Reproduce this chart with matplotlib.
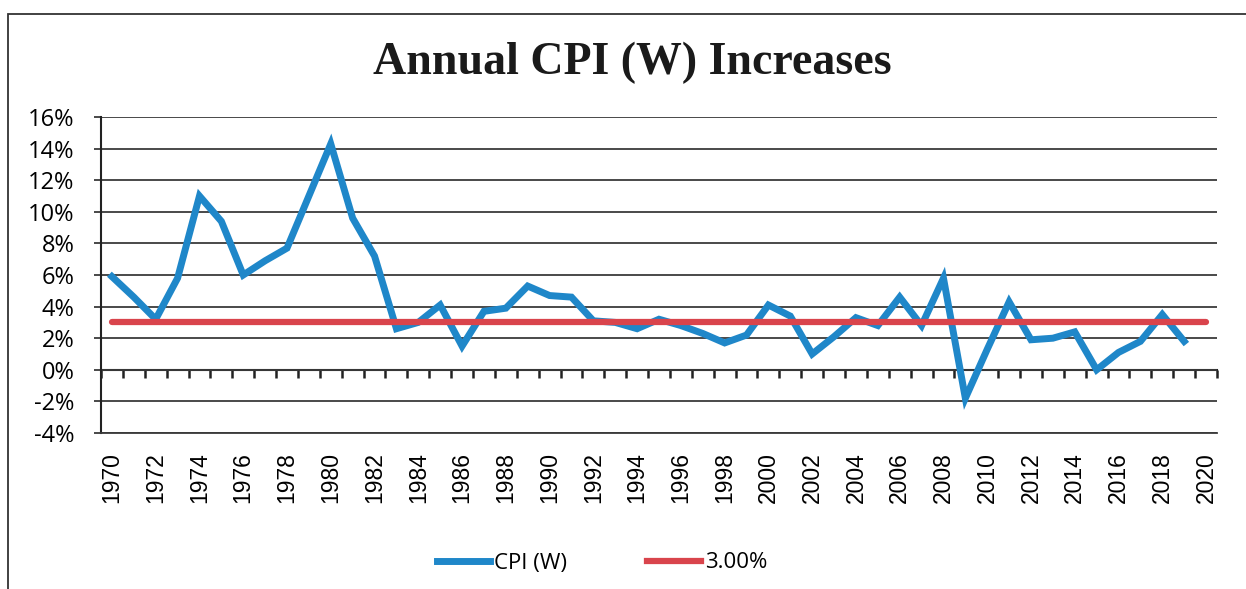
import matplotlib.pyplot as plt
import numpy as np
from matplotlib.lines import Line2D

# data (percent)
years = list(range(1970, 2020))
cpi_w = [5.9, 4.6, 3.2, 5.8, 11.0, 9.4, 6.0, 6.9, 7.7, 11.0,
         14.3, 9.6, 7.2, 2.6, 3.0, 4.1, 1.5, 3.7, 3.9, 5.3,
         4.7, 4.6, 3.1, 3.0, 2.6, 3.2, 2.8, 2.3, 1.7, 2.2,
         4.1, 3.4, 1.0, 2.1, 3.3, 2.8, 4.6, 2.8, 5.8, -1.8,
         1.3, 4.3, 1.9, 2.0, 2.4, 0.0, 1.1, 1.8, 3.5, 1.8]
target_years = list(range(1970, 2021))
target = [3.0] * len(target_years)

year_labels = [str(y) for y in range(1970, 2021, 2)]
y_ticks = list(range(-4, 17, 2))

fig = plt.figure(figsize=(12.46, 5.89), dpi=100)
ax = fig.add_axes([101 / 1246, 1 - 433 / 589, 1116 / 1246, 316 / 589])

# outer frame of the pasted chart
fig.add_artist(plt.Rectangle((8 / 1246, -0.1), 1.2, 1 - 14 / 589 + 0.1,
                             transform=fig.transFigure, fill=False,
                             edgecolor="#333333", linewidth=1.3))

ax.plot(years, cpi_w, color="#1f87c9", linewidth=5, solid_joinstyle="miter",
        zorder=3)
ax.plot(target_years, target, color="#d9444c", linewidth=4.5,
        solid_capstyle="round", zorder=4)

ax.set_xlim(1969.5, 2020.5)
ax.set_ylim(-4, 16)

ax.set_yticks(y_ticks)
ax.set_yticklabels([f"{t}%" for t in y_ticks], fontfamily="Open Sans",
                   fontsize=17)
ax.yaxis.grid(True, color="#3a3a3a", linewidth=1.3)
ax.tick_params(axis="y", length=5, width=1.3, color="#3a3a3a", pad=14)

ax.set_xticks(range(1970, 2021, 2))
ax.set_xticklabels(year_labels, rotation=90, fontfamily="Liberation Sans",
                   fontsize=16.5)
ax.tick_params(axis="x", length=0, pad=14)

for s in ["top", "right"]:
    ax.spines[s].set_visible(False)
ax.spines["left"].set_color("#222222")
ax.spines["left"].set_linewidth(1.5)
ax.spines["bottom"].set_color("#3a3a3a")
ax.spines["bottom"].set_linewidth(1.3)

# category axis with tick marks drawn at the 0% line
sec = ax.secondary_xaxis(0.2)
sec.set_xticks(np.arange(1969.5, 2021, 1.0))
sec.set_xticklabels([])
sec.tick_params(length=6, width=1.8, color="#222222", direction="out")
sec.spines["bottom"].set_color("#222222")
sec.spines["bottom"].set_linewidth(1.5)

fig.text(632 / 1246, 1 - 63 / 589, "Annual CPI (W) Increases",
         fontfamily="Liberation Serif", fontweight="bold", fontsize=33,
         ha="center", va="center", color="#1a1a1a")

handles = [Line2D([], [], color="#1f87c9", linewidth=5),
           Line2D([], [], color="#d9444c", linewidth=4.5)]
fig.legend(handles, ["CPI (W)", "3.00%"], loc="center",
           bbox_to_anchor=(602 / 1246, 1 - 563 / 589), ncol=2, frameon=False,
           prop={"family": "Open Sans", "size": 16}, handlelength=2.4,
           handletextpad=0.2, columnspacing=3.6)

fig.savefig("out.png", dpi=100)
